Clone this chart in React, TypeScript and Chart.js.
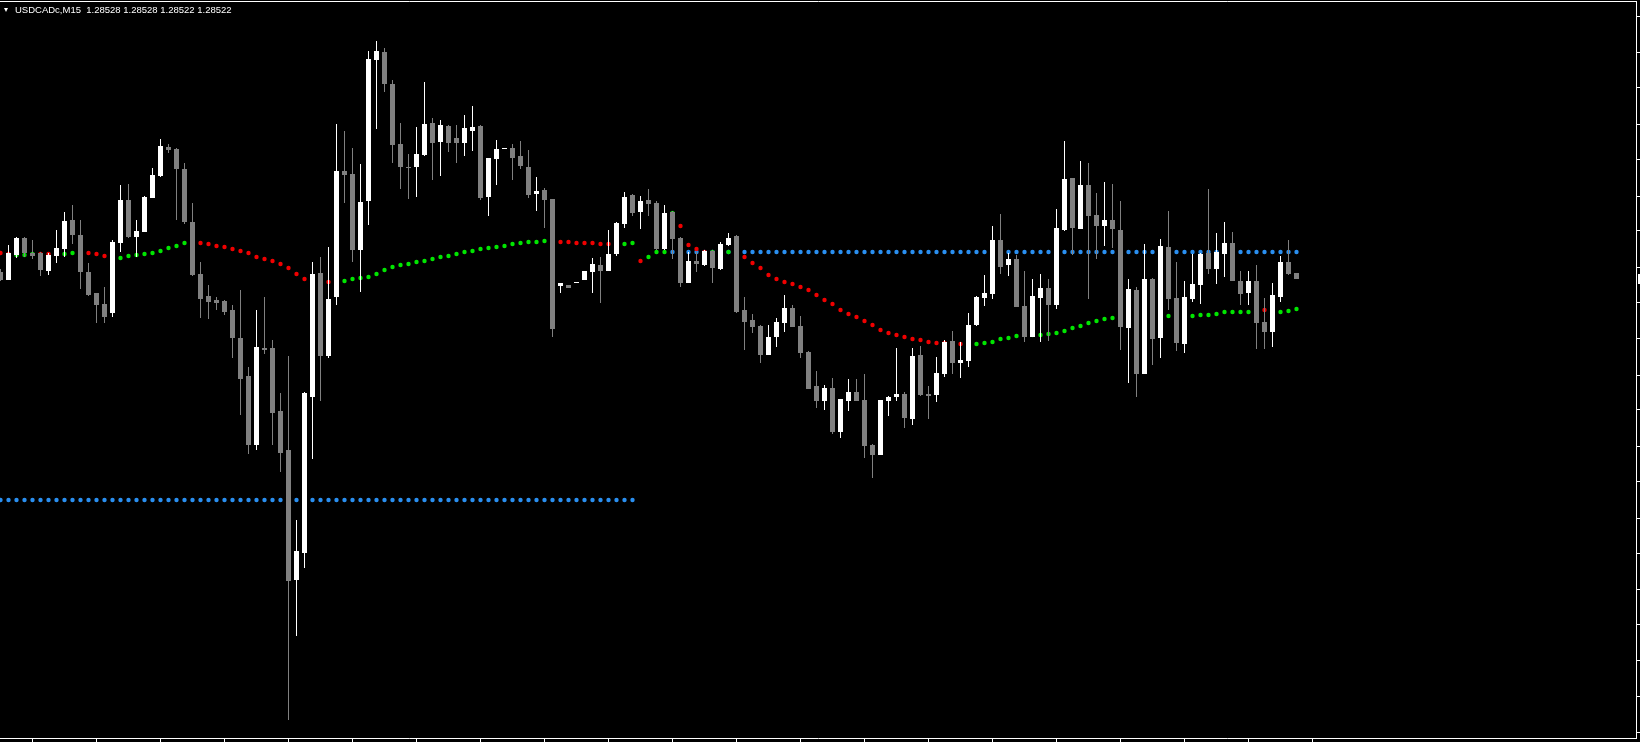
import React, { useEffect, useRef } from 'react';
import { Chart, registerables } from 'chart.js';

Chart.register(...registerables);

const symbolLabel = 'USDCADc,M15';
const quoteLabels = ['1.28528', '1.28528', '1.28522', '1.28522'];

const opens = [
  1.28529, 1.28521, 1.28546, 1.28563, 1.28548, 1.28548, 1.28530, 1.28545, 1.28552, 1.28581,
  1.28566, 1.28529, 1.28508, 1.28497, 1.28488, 1.28558, 1.28601, 1.28564, 1.28569, 1.28603,
  1.28625, 1.28654, 1.28652, 1.28632, 1.28579, 1.28527, 1.28505, 1.28501, 1.28500, 1.28491,
  1.28463, 1.28425, 1.28356, 1.28453, 1.28453, 1.28390, 1.28351, 1.28221, 1.28248, 1.28404,
  1.28528, 1.28445, 1.28504, 1.28630, 1.28627, 1.28551, 1.28600, 1.28741, 1.28749, 1.28717,
  1.28657, 1.28634, 1.28634, 1.28646, 1.28678, 1.28659, 1.28675, 1.28663, 1.28658, 1.28670,
  1.28675, 1.28604, 1.28642, 1.28652, 1.28653, 1.28645, 1.28634, 1.28607, 1.28611, 1.28602,
  1.28515, 1.28516, 1.28518, 1.28521, 1.28529, 1.28536, 1.28530, 1.28547, 1.28577, 1.28606,
  1.28589, 1.28601, 1.28598, 1.28552, 1.28589, 1.28563, 1.28518, 1.28540, 1.28536, 1.28550,
  1.28532, 1.28556, 1.28565, 1.28491, 1.28481, 1.28475, 1.28446, 1.28464, 1.28478, 1.28493,
  1.28475, 1.28449, 1.28415, 1.28400, 1.28413, 1.28369, 1.28400, 1.28409, 1.28401, 1.28356,
  1.28346, 1.28400, 1.28404, 1.28407, 1.28382, 1.28446, 1.28407, 1.28406, 1.28427, 1.28460,
  1.28438, 1.28440, 1.28476, 1.28503, 1.28507, 1.28561, 1.28536, 1.28542, 1.28495, 1.28464,
  1.28503, 1.28513, 1.28496, 1.28571, 1.28623, 1.28572, 1.28616, 1.28586, 1.28575, 1.28581,
  1.28571, 1.28473, 1.28511, 1.28427, 1.28522, 1.28463, 1.28554, 1.28503, 1.28457, 1.28502,
  1.28516, 1.28548, 1.28532, 1.28547, 1.28558, 1.28520, 1.28508, 1.28520, 1.28479, 1.28469,
  1.28504, 1.28539, 1.28528,
];

const highs = [
  1.28532, 1.28556, 1.28564, 1.28564, 1.28561, 1.28549, 1.28548, 1.28571, 1.28589, 1.28596,
  1.28581, 1.28538, 1.28508, 1.28514, 1.28561, 1.28616, 1.28617, 1.28581, 1.28605, 1.28633,
  1.28662, 1.28657, 1.28653, 1.28638, 1.28598, 1.28539, 1.28516, 1.28504, 1.28501, 1.28496,
  1.28511, 1.28434, 1.28491, 1.28504, 1.28461, 1.28408, 1.28445, 1.28281, 1.28409, 1.28539,
  1.28544, 1.28554, 1.28677, 1.28670, 1.28653, 1.28637, 1.28750, 1.28760, 1.28753, 1.28721,
  1.28678, 1.28647, 1.28674, 1.28719, 1.28683, 1.28681, 1.28676, 1.28676, 1.28686, 1.28695,
  1.28676, 1.28643, 1.28661, 1.28653, 1.28657, 1.28660, 1.28651, 1.28624, 1.28613, 1.28602,
  1.28518, 1.28516, 1.28519, 1.28530, 1.28543, 1.28544, 1.28571, 1.28579, 1.28609, 1.28607,
  1.28605, 1.28612, 1.28600, 1.28596, 1.28590, 1.28564, 1.28549, 1.28549, 1.28551, 1.28551,
  1.28559, 1.28568, 1.28566, 1.28504, 1.28487, 1.28476, 1.28476, 1.28483, 1.28506, 1.28496,
  1.28485, 1.28450, 1.28430, 1.28416, 1.28423, 1.28402, 1.28422, 1.28422, 1.28427, 1.28357,
  1.28401, 1.28405, 1.28453, 1.28409, 1.28453, 1.28455, 1.28415, 1.28444, 1.28461, 1.28470,
  1.28459, 1.28488, 1.28505, 1.28526, 1.28575, 1.28587, 1.28548, 1.28546, 1.28530, 1.28522,
  1.28527, 1.28522, 1.28592, 1.28660, 1.28623, 1.28640, 1.28638, 1.28608, 1.28619, 1.28617,
  1.28600, 1.28522, 1.28514, 1.28557, 1.28523, 1.28562, 1.28590, 1.28539, 1.28520, 1.28547,
  1.28548, 1.28612, 1.28568, 1.28579, 1.28569, 1.28530, 1.28530, 1.28536, 1.28503, 1.28518,
  1.28545, 1.28561, 1.28528,
];

const lows = [
  1.28520, 1.28521, 1.28543, 1.28544, 1.28542, 1.28525, 1.28526, 1.28538, 1.28544, 1.28557,
  1.28512, 1.28505, 1.28478, 1.28478, 1.28484, 1.28549, 1.28563, 1.28544, 1.28569, 1.28603,
  1.28624, 1.28648, 1.28581, 1.28577, 1.28525, 1.28483, 1.28482, 1.28491, 1.28486, 1.28443,
  1.28386, 1.28347, 1.28351, 1.28447, 1.28356, 1.28329, 1.28081, 1.28165, 1.28233, 1.28342,
  1.28400, 1.28443, 1.28496, 1.28598, 1.28539, 1.28509, 1.28576, 1.28672, 1.28709, 1.28638,
  1.28612, 1.28602, 1.28604, 1.28645, 1.28621, 1.28625, 1.28649, 1.28638, 1.28645, 1.28650,
  1.28601, 1.28585, 1.28616, 1.28652, 1.28621, 1.28632, 1.28603, 1.28590, 1.28573, 1.28464,
  1.28508, 1.28513, 1.28518, 1.28521, 1.28508, 1.28498, 1.28530, 1.28545, 1.28573, 1.28585,
  1.28572, 1.28585, 1.28551, 1.28551, 1.28542, 1.28514, 1.28518, 1.28529, 1.28535, 1.28518,
  1.28531, 1.28555, 1.28488, 1.28451, 1.28468, 1.28438, 1.28446, 1.28454, 1.28469, 1.28474,
  1.28443, 1.28412, 1.28393, 1.28391, 1.28367, 1.28363, 1.28390, 1.28400, 1.28343, 1.28323,
  1.28346, 1.28385, 1.28400, 1.28373, 1.28376, 1.28405, 1.28382, 1.28399, 1.28424, 1.28427,
  1.28423, 1.28434, 1.28475, 1.28495, 1.28502, 1.28527, 1.28525, 1.28494, 1.28459, 1.28464,
  1.28459, 1.28460, 1.28492, 1.28570, 1.28546, 1.28572, 1.28502, 1.28542, 1.28555, 1.28553,
  1.28451, 1.28418, 1.28404, 1.28427, 1.28436, 1.28443, 1.28491, 1.28450, 1.28448, 1.28499,
  1.28497, 1.28527, 1.28517, 1.28524, 1.28520, 1.28496, 1.28496, 1.28452, 1.28452, 1.28454,
  1.28499, 1.28526, 1.28522,
];

const closes = [
  1.28521, 1.28548, 1.28563, 1.28548, 1.28545, 1.28531, 1.28546, 1.28553, 1.28580, 1.28566,
  1.28529, 1.28506, 1.28496, 1.28484, 1.28559, 1.28601, 1.28564, 1.28570, 1.28604, 1.28626,
  1.28655, 1.28651, 1.28632, 1.28579, 1.28526, 1.28502, 1.28499, 1.28498, 1.28489, 1.28463,
  1.28422, 1.28356, 1.28454, 1.28451, 1.28388, 1.28348, 1.28220, 1.28250, 1.28408, 1.28527,
  1.28445, 1.28502, 1.28630, 1.28626, 1.28551, 1.28599, 1.28742, 1.28750, 1.28717, 1.28656,
  1.28634, 1.28633, 1.28647, 1.28677, 1.28658, 1.28676, 1.28658, 1.28658, 1.28673, 1.28674,
  1.28603, 1.28643, 1.28652, 1.28652, 1.28643, 1.28635, 1.28606, 1.28610, 1.28601, 1.28472,
  1.28518, 1.28513, 1.28518, 1.28530, 1.28537, 1.28530, 1.28547, 1.28578, 1.28604, 1.28588,
  1.28600, 1.28597, 1.28552, 1.28588, 1.28562, 1.28518, 1.28540, 1.28537, 1.28550, 1.28533,
  1.28557, 1.28563, 1.28489, 1.28479, 1.28474, 1.28446, 1.28464, 1.28479, 1.28493, 1.28474,
  1.28448, 1.28412, 1.28400, 1.28413, 1.28369, 1.28402, 1.28409, 1.28400, 1.28355, 1.28346,
  1.28401, 1.28404, 1.28407, 1.28383, 1.28445, 1.28406, 1.28405, 1.28428, 1.28459, 1.28438,
  1.28441, 1.28476, 1.28504, 1.28508, 1.28561, 1.28534, 1.28542, 1.28494, 1.28464, 1.28505,
  1.28513, 1.28496, 1.28573, 1.28622, 1.28573, 1.28616, 1.28585, 1.28575, 1.28581, 1.28572,
  1.28474, 1.28512, 1.28427, 1.28522, 1.28462, 1.28555, 1.28502, 1.28458, 1.28504, 1.28517,
  1.28547, 1.28532, 1.28549, 1.28558, 1.28520, 1.28507, 1.28520, 1.28478, 1.28469, 1.28506,
  1.28539, 1.28527, 1.28522,
];

const trendLine = [
  1.28548, 1.28547, 1.28546, 1.28546, 1.28547, 1.28547, 1.28547, 1.28547, 1.28547, 1.28548,
  1.28549, 1.28548, 1.28547, 1.28545, 1.28544, 1.28543, 1.28545, 1.28546, 1.28547, 1.28548,
  1.28550, 1.28553, 1.28555, 1.28558, 1.28558, 1.28558, 1.28557, 1.28555, 1.28554, 1.28552,
  1.28550, 1.28548, 1.28544, 1.28542, 1.28540, 1.28537, 1.28533, 1.28527, 1.28522, 1.28520,
  1.28520, 1.28519, 1.28518, 1.28520, 1.28522, 1.28523, 1.28524, 1.28527, 1.28531, 1.28534,
  1.28536, 1.28537, 1.28539, 1.28540, 1.28542, 1.28544, 1.28545, 1.28547, 1.28549, 1.28550,
  1.28552, 1.28553, 1.28554, 1.28555, 1.28557, 1.28558, 1.28559, 1.28559, 1.28560, 1.28559,
  1.28559, 1.28559, 1.28558, 1.28558, 1.28558, 1.28557, 1.28557, 1.28557, 1.28557, 1.28558,
  1.28540, 1.28544, 1.28549, 1.28549, 1.28588, 1.28575, 1.28556, 1.28552, 1.28549, 1.28549,
  1.28549, 1.28549, 1.28547, 1.28544, 1.28538, 1.28533, 1.28526, 1.28522, 1.28519, 1.28517,
  1.28514, 1.28511, 1.28506, 1.28501, 1.28497, 1.28491, 1.28487, 1.28484, 1.28480, 1.28476,
  1.28471, 1.28468, 1.28466, 1.28464, 1.28462, 1.28461, 1.28459, 1.28458, 1.28458, 1.28457,
  1.28457, 1.28457, 1.28457, 1.28458, 1.28459, 1.28462, 1.28463, 1.28465, 1.28466, 1.28466,
  1.28466, 1.28467, 1.28468, 1.28470, 1.28473, 1.28475, 1.28478, 1.28480, 1.28482, 1.28483,
  1.28484, 1.28484, 1.28484, 1.28484, 1.28484, 1.28485, 1.28485, 1.28485, 1.28485, 1.28485,
  1.28486, 1.28486, 1.28487, 1.28489, 1.28489, 1.28489, 1.28489, 1.28490, 1.28491, 1.28490,
  1.28489, 1.28490, 1.28492,
];

// 1 = rising (green dot), 0 = falling (red dot)
const trendUp = [
  0, 0, 1, 1, 1, 0, 0, 0, 1, 1,
  1, 0, 0, 0, 0, 1, 1, 1, 1, 1,
  1, 1, 1, 1, 1, 0, 0, 0, 0, 0,
  0, 0, 0, 0, 0, 0, 0, 0, 0, 1,
  1, 0, 0, 1, 1, 1, 1, 1, 1, 1,
  1, 1, 1, 1, 1, 1, 1, 1, 1, 1,
  1, 1, 1, 1, 1, 1, 1, 1, 1, 1,
  0, 0, 0, 0, 0, 0, 0, 0, 1, 1,
  0, 1, 1, 1, 1, 0, 0, 0, 0, 1,
  1, 1, 0, 0, 0, 0, 0, 0, 0, 0,
  0, 0, 0, 0, 0, 0, 0, 0, 0, 0,
  0, 0, 0, 0, 0, 0, 0, 0, 0, 0,
  0, 1, 1, 1, 1, 1, 1, 1, 1, 1,
  1, 1, 1, 1, 1, 1, 1, 1, 1, 1,
  1, 0, 0, 0, 1, 1, 1, 1, 1, 1,
  1, 1, 1, 1, 1, 1, 1, 1, 0, 0,
  1, 1, 1,
];

const lowerLevel = 1.28301;
const lowerLevelBars = [0, 79];
const upperLevel = 1.28549;
const upperLevelBars = [84, 162];

const xTickBars = [0, 8, 16, 24, 32, 40, 48, 56, 64, 72, 80, 88, 96, 104, 112, 120, 128, 136, 144, 152, 160];
const yTickPrices = [
  1.28784, 1.28749, 1.28713, 1.28677, 1.28641, 1.28605, 1.28570, 1.28534, 1.28498, 1.28462,
  1.28426, 1.28391, 1.28355, 1.28319, 1.28283, 1.28247, 1.28212, 1.28176, 1.28140, 1.28104, 1.28068,
];

const X_MIN = -0.0625;
const X_MAX = 204.4375;
const Y_MAX = 1.288;
const Y_MIN = 1.28063;

const BULL = '#ffffff';
const BEAR = '#808080';
const RED = '#f00000';
const GREEN = '#00e600';
const BLUE = '#2a8ff0';

const priceMarker = {
  id: 'priceMarker',
  afterDraw(chart: any) {
    const y = chart.scales.y.getPixelForValue(closes[closes.length - 1]);
    const ctx = chart.ctx;
    ctx.save();
    ctx.fillStyle = '#ffffff';
    ctx.fillRect(chart.chartArea.right + 2, Math.round(y) - 5, 4, 10);
    ctx.restore();
  },
};

export default function App() {
  const ref = useRef<HTMLCanvasElement | null>(null);

  useEffect(() => {
    document.body.style.margin = '0';
    document.body.style.background = '#000';
    const canvas = ref.current;
    if (!canvas) return;

    const candleColors = closes.map((c, i) => (c >= opens[i] ? BULL : BEAR));
    const bodies = opens.map((o, i) => ({ x: i, y: [Math.min(o, closes[i]), Math.max(o, closes[i])] }));
    const wicks = lows.map((l, i) => ({ x: i, y: [l, highs[i]] }));
    const trendPts = trendLine.map((v, i) => ({ x: i, y: v }));
    const trendColors = trendUp.map((u) => (u ? GREEN : RED));
    const lowerPts: any[] = [];
    for (let i = lowerLevelBars[0]; i <= lowerLevelBars[1]; i++) lowerPts.push({ x: i, y: lowerLevel });
    const upperPts: any[] = [];
    for (let i = upperLevelBars[0]; i <= upperLevelBars[1]; i++) upperPts.push({ x: i, y: upperLevel });

    const axisGrid = {
      display: true,
      drawOnChartArea: false,
      drawTicks: true,
      tickLength: 4,
      color: '#ffffff',
      lineWidth: 1,
    };

    const chart = new Chart(canvas, {
      type: 'bar',
      data: {
        datasets: [
          {
            type: 'bar',
            label: 'bodies',
            data: bodies as any,
            backgroundColor: candleColors,
            borderWidth: 0,
            grouped: false,
            maxBarThickness: 5,
            barThickness: 5,
            minBarLength: 1,
            inflateAmount: 0,
            order: 1,
          } as any,
          {
            type: 'bar',
            label: 'wicks',
            data: wicks as any,
            backgroundColor: candleColors,
            borderWidth: 0,
            grouped: false,
            maxBarThickness: 1,
            barThickness: 1,
            minBarLength: 1,
            inflateAmount: 0,
            order: 2,
          } as any,
          {
            type: 'scatter',
            label: 'trend',
            data: trendPts,
            pointRadius: 2.2,
            pointBorderWidth: 0,
            pointBackgroundColor: trendColors,
            showLine: false,
            order: 3,
          } as any,
          {
            type: 'scatter',
            label: 'upper',
            data: upperPts,
            pointRadius: 2.2,
            pointBorderWidth: 0,
            pointBackgroundColor: BLUE,
            showLine: false,
            order: 4,
          } as any,
          {
            type: 'scatter',
            label: 'lower',
            data: lowerPts,
            pointRadius: 2.2,
            pointBorderWidth: 0,
            pointBackgroundColor: BLUE,
            showLine: false,
            order: 5,
          } as any,
        ],
      },
      options: {
        responsive: false,
        maintainAspectRatio: false,
        animation: false,
        devicePixelRatio: 1,
        events: [],
        layout: { autoPadding: false, padding: { top: 1, left: 0, right: 0, bottom: 0 } },
        plugins: {
          legend: { display: false },
          tooltip: { enabled: false },
          title: { display: false },
        },
        scales: {
          x: {
            type: 'linear',
            position: 'bottom',
            min: X_MIN,
            max: X_MAX,
            offset: false,
            grid: axisGrid,
            border: { display: true, color: '#ffffff', width: 1 },
            ticks: { display: false },
            afterBuildTicks: (s: any) => {
              s.ticks = xTickBars.map((v) => ({ value: v }));
            },
          },
          xTop: {
            type: 'linear',
            position: 'top',
            min: X_MIN,
            max: X_MAX,
            offset: false,
            grid: { display: false, drawTicks: false, drawOnChartArea: false },
            border: { display: true, color: '#ffffff', width: 1 },
            ticks: { display: false },
          },
          y: {
            type: 'linear',
            position: 'right',
            min: Y_MIN,
            max: Y_MAX,
            grid: axisGrid,
            border: { display: true, color: '#ffffff', width: 1 },
            ticks: { display: false },
            afterBuildTicks: (s: any) => {
              s.ticks = yTickPrices.map((v) => ({ value: v }));
            },
          },
        },
      } as any,
      plugins: [priceMarker],
    });

    return () => chart.destroy();
  }, []);

  return (
    <div style={{ position: 'relative', width: 1640, height: 742, background: '#000', overflow: 'hidden' }}>
      <canvas ref={ref} width={1640} height={742} style={{ display: 'block', width: 1640, height: 742 }} />
      <div
        style={{
          position: 'absolute',
          left: 4,
          top: 8,
          width: 0,
          height: 0,
          borderLeft: '2.5px solid transparent',
          borderRight: '2.5px solid transparent',
          borderTop: '4px solid #ffffff',
        }}
      />
      <div
        style={{
          position: 'absolute',
          left: 15,
          top: 4.5,
          color: '#ffffff',
          fontFamily: '"Liberation Sans", Arial, sans-serif',
          fontSize: '9.5px',
          lineHeight: '9.5px',
          whiteSpace: 'pre',
        }}
      >
        {symbolLabel + '  ' + quoteLabels.join(' ')}
      </div>
    </div>
  );
}
